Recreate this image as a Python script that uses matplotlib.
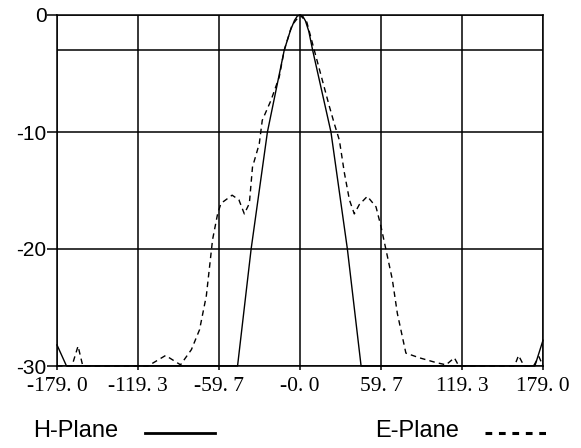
import matplotlib
matplotlib.use("Agg")
import matplotlib.pyplot as plt
from matplotlib.lines import Line2D

# ---- data ----
x_ticks = [-179.0, -119.3, -59.7, 0.0, 59.7, 119.3, 179.0]
x_tick_labels = ["-179. 0", "-119. 3", "-59. 7", "-0. 0", "59. 7", "119. 3", "179. 0"]
y_ticks = [0, -10, -20, -30]
y_tick_labels = ["0", "-10", "-20", "-30"]
ref_level = -3

h_angle = [-179, -172, -46, -36, -24, -11.6, -7, -4, -2, 0, 2, 4, 6.5, 9.3, 22.8, 34.9, 45, 173, 179]
h_db = [-28.2, -30, -30, -20, -10, -3, -1.3, -0.45, -0.1, 0, -0.1, -0.5, -1.4, -3, -10, -20, -30, -30, -27.8]

e_angle = [-179, -168, -163.5, -160, -112, -99, -88, -80, -74, -69, -64.4, -60.7, -58.2,
           -50, -45, -41, -37.3, -35, -30, -27.8, -21.4, -15.3, -11.6, -6, 0, 5, 10.5,
           21.6, 25.3, 29, 32.7, 36.4, 40, 43.7, 49.6, 56, 59.7, 63.4, 68, 71.7, 78, 88,
           100, 107.6, 113.7, 117, 158, 161, 165, 172, 176, 179]
e_db = [-30, -30, -28.3, -30, -30, -29.1, -29.9, -28.6, -26.9, -24, -19.2, -17, -16.1,
        -15.4, -15.8, -17, -16.1, -13, -11, -9, -7.3, -5.3, -3, -0.9, 0, -0.6, -3,
        -7.8, -9.3, -10.7, -13.5, -15.8, -17, -16.2, -15.5, -16.4, -18.1, -20.1, -22.6,
        -25.5, -28.9, -29.3, -29.7, -29.9, -29.3, -30, -30, -29.1, -30, -30, -29.2, -30]

legend_labels = ["H-Plane", "E-Plane"]

# ---- figure ----
fig = plt.figure(figsize=(5.81, 4.48), dpi=100)
ax = fig.add_axes([57/581, 1-366/448, (543-57)/581, (366-15)/448])

ax.set_xlim(-179, 179)
ax.set_ylim(-30, 0)

for xv in x_ticks:
    ax.axvline(xv, color="black", lw=1.1, zorder=1)
for yv in y_ticks + [ref_level]:
    ax.axhline(yv, color="black", lw=1.1, zorder=1)

ax.plot(h_angle, h_db, color="black", lw=1.0, clip_on=False, zorder=3)
ax.plot(e_angle, e_db, color="black", lw=1.0, ls=(0, (4, 3)), clip_on=False, zorder=3)

ax.set_xticks(x_ticks)
ax.set_xticklabels(x_tick_labels, family="Liberation Serif", fontsize=15.5)
ax.set_yticks(y_ticks)
ax.set_yticklabels(y_tick_labels, family="Liberation Sans", fontsize=15)
ax.tick_params(axis="y", length=7, width=1.1, pad=0.5, direction="out")
ax.tick_params(axis="x", length=3, width=1.1, pad=5, direction="out")
for s in ax.spines.values():
    s.set_linewidth(1.1)

# legend drawn beneath the plot
fig.text(33/581, 1-431/448, legend_labels[0], fontsize=17, family="Liberation Sans",
         ha="left", va="center")
fig.add_artist(Line2D([145/581, 215/581], [1-432.5/448, 1-432.5/448], color="black", lw=2))
fig.text(375/581, 1-431/448, legend_labels[1], fontsize=17, family="Liberation Sans",
         ha="left", va="center")
fig.add_artist(Line2D([485/581, 547/581], [1-432.5/448, 1-432.5/448], color="black", lw=2.2,
                      ls=(0, (2.2, 2.2))))

fig.savefig("out.png", dpi=100)
